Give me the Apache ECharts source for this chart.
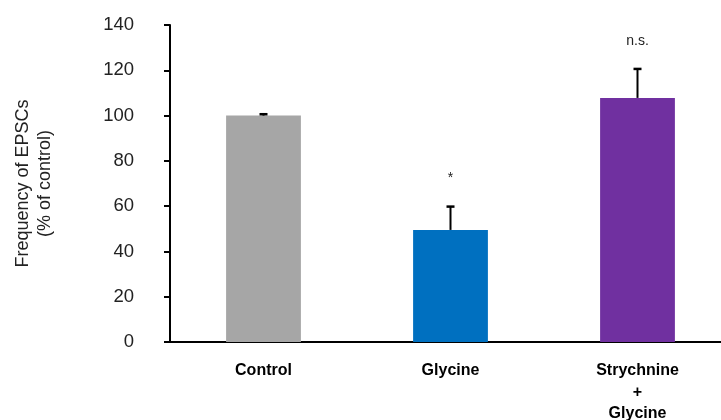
<!DOCTYPE html>
<html>
<head>
<meta charset="utf-8">
<script src="https://cdn.jsdelivr.net/npm/echarts@6/dist/echarts.min.js"></script>
<style>html,body{margin:0;padding:0;background:#fff;}#c{width:721px;height:420px;}</style>
</head>
<body>
<div id="c"></div>
<script>
var categories = ['Control', 'Glycine', 'Strychnine\n+\nGlycine'];
var means = [100, 49.5, 107.8];
var errors = [0.6, 10.3, 12.8];
var annotations = ['', '*', 'n.s.'];
var barColors = ['#a6a6a6', '#0070c0', '#7030a0'];
var yTicks = [0, 20, 40, 60, 80, 100, 120, 140];

var chart = echarts.init(document.getElementById('c'), null, {renderer: 'canvas'});
var errData = means.map(function (m, i) { return [i, m, m + errors[i], annotations[i]]; });

chart.setOption({
  animation: false,
  grid: {left: 170, top: 25, width: 561, height: 317, containLabel: false, outerBoundsMode: 'none'},
  xAxis: {
    type: 'category',
    data: categories,
    axisLine: {lineStyle: {color: '#000', width: 2}},
    axisTick: {show: false},
    axisLabel: {color: '#000', fontFamily: 'Liberation Sans, Arial', fontWeight: 'bold', fontSize: 16, margin: 18, lineHeight: 21.5}
  },
  yAxis: {
    type: 'value',
    min: yTicks[0], max: yTicks[yTicks.length - 1], interval: 20,
    name: 'Frequency of EPSCs\n(% of control)',
    nameLocation: 'middle',
    nameGap: 114,
    nameTextStyle: {color: '#222', fontFamily: 'Liberation Sans, Arial', fontSize: 18, lineHeight: 22},
    splitLine: {show: false},
    axisLine: {show: true, lineStyle: {color: '#000', width: 2}},
    axisTick: {show: true, length: 6, lineStyle: {color: '#000', width: 2}},
    axisLabel: {color: '#222', fontFamily: 'Liberation Sans, Arial', fontSize: 18.5, margin: 36}
  },
  series: [{
    type: 'bar',
    barWidth: '40%',
    data: means.map(function (m, i) { return {value: m, itemStyle: {color: barColors[i]}}; })
  }, {
    type: 'custom',
    data: errData,
    z: 10,
    renderItem: function (params, api) {
      var x = api.value(0);
      var p0 = api.coord([x, api.value(1)]);
      var p1 = api.coord([x, api.value(2)]);
      var half = 4;
      var children = [
        {type: 'line', shape: {x1: p0[0], y1: p0[1], x2: p1[0], y2: p1[1]}, style: {stroke: '#000', lineWidth: 2}},
        {type: 'line', shape: {x1: p1[0] - half, y1: p1[1], x2: p1[0] + half, y2: p1[1]}, style: {stroke: '#000', lineWidth: 2.5}}
      ];
      var t = errData[params.dataIndex][3];
      if (t) {
        children.push({type: 'text', style: {text: t, x: p1[0], y: p1[1] - 28, textAlign: 'center', textVerticalAlign: 'middle', fill: '#222', font: '14px "Liberation Sans", Arial'}});
      }
      return {type: 'group', children: children};
    }
  }]
});
</script>
</body>
</html>
